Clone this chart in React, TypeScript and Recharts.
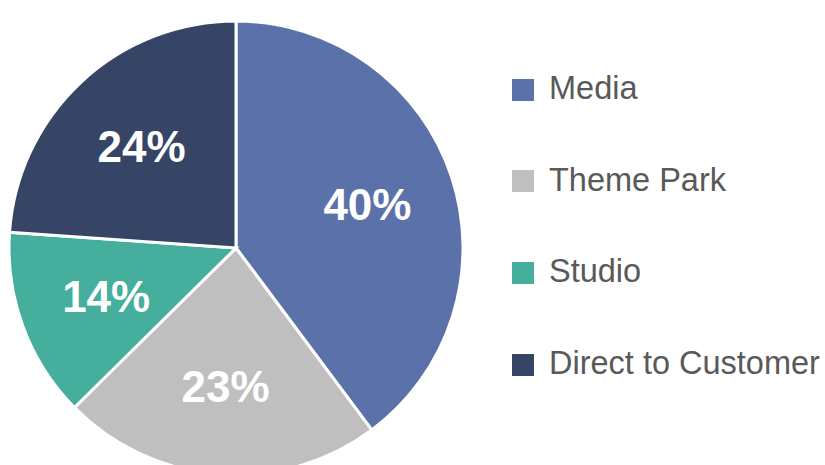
import { PieChart, Pie, Cell, Legend } from 'recharts';

const segments = ['Media', 'Theme Park', 'Studio', 'Direct to Customer'];
const shares = [39.8, 22.8, 13.5, 23.9];
const shareLabels = ['40%', '23%', '14%', '24%'];
const colors = ['#5a71aa', '#bfbfbf', '#45ae9c', '#364466'];

const data = segments.map((name, i) => ({ name, value: shares[i], label: shareLabels[i] }));

const RAD = Math.PI / 180;

const renderLabel = (props: any) => {
  const { cx, cy, midAngle, outerRadius, index } = props;
  const r = outerRadius * 0.61;
  const x = cx + r * Math.cos(-midAngle * RAD);
  const y = cy + r * Math.sin(-midAngle * RAD);
  return (
    <text
      x={x}
      y={y}
      fill="#fff"
      textAnchor="middle"
      dominantBaseline="central"
      style={{ fontFamily: '"Liberation Sans", Arial, sans-serif', fontSize: 44, fontWeight: 700 }}
    >
      {data[index].label}
    </text>
  );
};

const renderLegend = () => (
  <div style={{ position: 'relative', width: 320, height: 400 }}>
    {data.map((d, i) => (
      <div
        key={d.name}
        style={{
          position: 'absolute',
          left: 0,
          top: i * 91.7,
          display: 'flex',
          alignItems: 'center',
          height: 40,
        }}
      >
        <span style={{ width: 22, height: 22, background: colors[i], display: 'inline-block', marginTop: 3 }} />
        <span
          style={{
            marginLeft: 15,
            fontFamily: '"Liberation Sans", Arial, sans-serif',
            fontSize: 32.5,
            color: '#595959',
            whiteSpace: 'nowrap',
            lineHeight: '40px',
          }}
        >
          {d.name}
        </span>
      </div>
    ))}
  </div>
);

export default function App() {
  return (
    <div style={{ position: 'absolute', left: 0, top: 0, width: 825, height: 465, background: '#fff' }}>
      <PieChart width={825} height={465} margin={{ top: 0, right: 0, bottom: 0, left: 0 }}>
        <Pie
          data={data}
          dataKey="value"
          nameKey="name"
          cx={236}
          cy={248}
          outerRadius={227}
          startAngle={90}
          endAngle={-270}
          stroke="#fff"
          strokeWidth={3}
          label={renderLabel}
          labelLine={false}
          isAnimationActive={false}
        >
          {data.map((d, i) => (
            <Cell key={d.name} fill={colors[i]} />
          ))}
        </Pie>
        <Legend
          content={renderLegend}
          wrapperStyle={{ position: 'absolute', left: 512, top: 68, width: 320 }}
        />
      </PieChart>
    </div>
  );
}
